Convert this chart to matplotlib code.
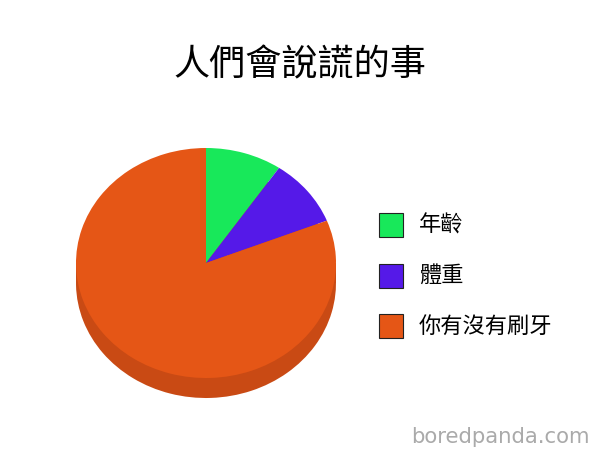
import matplotlib
matplotlib.use('Agg')
import matplotlib.pyplot as plt
from matplotlib.patches import Rectangle

plt.rcParams['font.family'] = ['Noto Sans CJK TC', 'DejaVu Sans']

title = '人們會說謊的事'
labels = ['年齡', '體重', '你有沒有刷牙']
values = [9.5, 9.5, 81]
colors = ['#18E85A', '#5519E8', '#E55616']
side_color = '#C94A14'
watermark = 'boredpanda.com'

W, H = 605, 463
fig = plt.figure(figsize=(W / 100, H / 100), dpi=100)
ax = fig.add_axes([0, 0, 1, 1])

# pixel geometry of the pie (center, radii, depth of the side)
cx, cy, rx, ry, depth_px = 206, 263, 130, 115, 20
depth = depth_px / ry

# side of the "3d" pie: lower copy plus the band between
ax.pie(values, colors=[side_color] * len(values), startangle=90,
       counterclock=False, center=(0, -depth), radius=1,
       wedgeprops={'linewidth': 0})
ax.add_patch(Rectangle((-1, -depth), 2, depth, color=side_color, lw=0))
ax.pie(values, colors=colors, startangle=90, counterclock=False,
       center=(0, 0), radius=1, wedgeprops={'linewidth': 0})

ax.set_aspect('auto')
ax.set_xlim(-cx / rx, (W - cx) / rx)
ax.set_ylim((cy - H) / ry, cy / ry)
ax.axis('off')

fig.text(300 / W, 1 - 65 / H, title, ha='center', va='center',
         fontsize=26, color='black')

# legend
for i, (label, color) in enumerate(zip(labels, colors)):
    top = 213 + i * 50.5
    fig.add_artist(Rectangle((379 / W, 1 - (top + 24) / H), 24 / W, 24 / H,
                             transform=fig.transFigure, facecolor=color,
                             edgecolor='#222222', lw=0.8))
    fig.text(419 / W, 1 - (top + 12) / H, label, ha='left', va='center',
             fontsize=16, color='black')

fig.text(590 / W, 1 - 437 / H, watermark, ha='right', va='center',
         fontsize=15.3, color='#AAAAAA', family=['DejaVu Sans'])

fig.savefig('out.png', dpi=100)
